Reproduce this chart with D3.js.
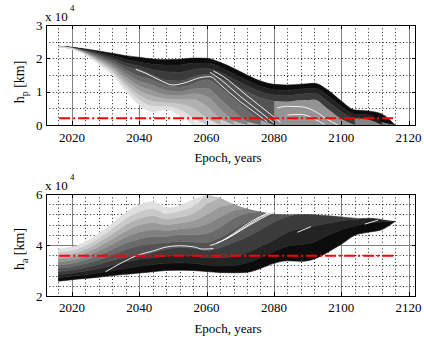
<!DOCTYPE html>
<html><head><meta charset="utf-8">
<script src="https://cdn.jsdelivr.net/npm/d3@7"></script>
<style>
body{margin:0;background:#fff}
svg{display:block}
</style>
</head><body>
<svg id="c" width="424" height="344"></svg>
<script>
// ---------- data (x 10^4 km) ----------
const years = [2016,2020,2024,2028,2032,2036,2040,2044,2048,2052,2056,2060,2064,2068,2072,2076,2080,2084,2088,2092,2096,2100,2104,2108,2112,2116];
const N = null;
// perigee altitude curves, darkest (s0) to lightest (s10)
const hp0  = [2.36,2.33,2.28,2.22,2.15,2.08,2.03,1.98,1.96,1.97,2.01,2.00,1.88,1.70,1.50,1.32,1.22,1.20,1.22,1.25,1.05,0.72,0.45,0.42,0.33,0.00];
const hp1  = [2.36,2.325,2.26,2.18,2.09,1.97,1.89,1.82,1.80,1.80,1.86,1.86,1.74,1.54,1.34,1.16,1.06,1.04,1.08,1.10,0.88,0.56,0.32,0.30,0.08,0.00];
const hp2  = [2.36,2.32,2.24,2.14,2.02,1.87,1.77,1.66,1.60,1.58,1.66,1.70,1.58,1.38,1.18,1.00,0.90,0.88,0.92,0.95,0.70,0.40,0.20,0.16,0.00,N];
const hp3  = [2.36,2.315,2.23,2.10,1.96,1.76,1.66,1.50,1.34,1.32,1.44,1.52,1.40,1.20,1.00,0.82,0.72,0.70,0.74,0.76,0.48,0.18,0.00,N,N,N];
const hp4  = [2.36,2.31,2.21,2.06,1.89,1.66,1.46,1.35,1.18,1.14,1.24,1.36,1.12,0.78,0.45,0.15,0.00,N,N,N,N,N,N,N,N,N];
const hp5  = [2.36,2.305,2.19,2.02,1.83,1.55,1.32,1.19,1.04,1.00,1.08,1.10,0.78,0.42,0.10,0.00,N,N,N,N,N,N,N,N,N,N];
const hp6  = [2.35,2.30,2.17,1.98,1.76,1.44,1.17,1.03,0.90,0.88,0.94,0.86,0.48,0.12,0.00,N,N,N,N,N,N,N,N,N,N,N];
const hp7  = [2.35,2.295,2.15,1.94,1.70,1.34,1.03,0.87,0.78,0.76,0.76,0.56,0.18,0.00,N,N,N,N,N,N,N,N,N,N,N,N];
const hp8  = [2.35,2.29,2.14,1.90,1.63,1.23,0.89,0.71,0.66,0.62,0.50,0.20,0.00,N,N,N,N,N,N,N,N,N,N,N,N,N];
const hp9  = [2.34,2.285,2.12,1.86,1.57,1.13,0.74,0.56,0.55,0.46,0.20,0.00,N,N,N,N,N,N,N,N,N,N,N,N,N,N];
const hp10 = [2.34,2.28,2.10,1.82,1.50,1.02,0.60,0.40,0.46,0.30,0.00,N,N,N,N,N,N,N,N,N,N,N,N,N,N,N];
// apogee altitude curves, darkest (s0) to lightest (s10)
const ha0  = [2.58,2.64,2.69,2.74,2.80,2.85,2.90,2.95,3.00,3.01,3.00,2.96,2.92,2.91,2.93,3.08,3.28,3.38,3.36,3.45,3.72,4.03,4.38,4.50,4.60,4.93];
const ha1  = [2.71,2.77,2.83,2.91,3.00,3.09,3.17,3.23,3.28,3.30,3.28,3.22,3.18,3.20,3.30,3.50,3.75,3.95,4.02,4.12,4.38,4.60,4.75,4.85,4.90,4.93];
const ha2  = [2.83,2.90,2.98,3.08,3.21,3.34,3.44,3.50,3.56,3.60,3.58,3.50,3.50,3.55,3.70,3.95,4.20,4.50,4.65,4.75,4.85,4.95,5.00,5.05,5.00,N];
const ha3  = [2.96,3.02,3.12,3.25,3.40,3.52,3.56,3.70,3.84,3.90,3.87,3.78,3.90,4.10,4.32,4.60,4.90,5.12,5.20,5.19,5.15,5.10,5.05,N,N,N];
const ha4  = [3.09,3.15,3.26,3.42,3.62,3.82,3.97,4.05,4.10,4.15,4.12,4.10,4.30,4.60,4.90,5.10,5.22,N,N,N,N,N,N,N,N,N];
const ha5  = [3.22,3.28,3.41,3.60,3.83,4.07,4.24,4.33,4.34,4.40,4.40,4.45,4.70,5.05,5.25,5.30,N,N,N,N,N,N,N,N,N,N];
const ha6  = [3.34,3.41,3.55,3.77,4.03,4.31,4.51,4.60,4.58,4.63,4.68,4.82,5.10,5.35,5.42,N,N,N,N,N,N,N,N,N,N,N];
const ha7  = [3.47,3.54,3.69,3.94,4.24,4.55,4.78,4.88,4.80,4.86,4.96,5.20,5.50,5.60,N,N,N,N,N,N,N,N,N,N,N,N];
const ha8  = [3.60,3.66,3.83,4.11,4.44,4.79,5.04,5.15,5.02,5.10,5.24,5.60,5.85,N,N,N,N,N,N,N,N,N,N,N,N,N];
const ha9  = [3.72,3.79,3.98,4.28,4.65,5.04,5.31,5.43,5.24,5.33,5.52,5.98,N,N,N,N,N,N,N,N,N,N,N,N,N,N];
const ha10 = [3.85,3.92,4.12,4.45,4.85,5.28,5.58,5.70,5.45,5.55,5.78,N,N,N,N,N,N,N,N,N,N,N,N,N,N,N];
// outer envelope of the apogee ensemble (upper edge)
const haTop = [3.85,3.92,4.12,4.45,4.85,5.28,5.58,5.70,5.45,5.55,5.78,5.98,5.85,5.60,5.42,5.30,5.22,5.20,5.20,5.19,5.15,5.10,5.05,5.05,5.00,4.93];
// gaps (white streaks) between curve groups
const gapP1Y = [2039,2042,2046,2050,2054,2058,2061,2064,2067,2070,2074,2078];
const gapP1V = [1.67,1.55,1.35,1.20,1.28,1.42,1.45,1.22,0.95,0.70,0.40,0.10];
const gapP2Y = [2061,2064,2067,2070,2074,2078,2080];
const gapP2V = [1.58,1.38,1.12,0.86,0.54,0.22,0.06];
const gapP3Y = [2062,2065,2068,2072,2076,2080,2082];
const gapP3V = [1.62,1.45,1.22,0.88,0.56,0.24,0.08];
const gapP4Y = [2081,2084,2088,2092,2096,2099];
const gapP4V = [0.52,0.56,0.55,0.42,0.16,0.00];
const gapP5Y = [2084,2088,2092,2095];
const gapP5V = [0.30,0.32,0.18,0.02];
const gapA1Y = [2030,2034,2040,2044,2048,2052,2056,2059,2062];
const gapA1V = [2.95,3.25,3.62,3.76,3.92,3.97,3.93,3.84,3.86];
const gapA2Y = [2061,2064,2068,2072,2076,2079];
const gapA2V = [3.98,4.12,4.45,4.82,5.12,5.30];
const gapA3Y = [2063,2066,2070,2074,2078,2081];
const gapA3V = [4.08,4.25,4.58,4.92,5.22,5.38];
const gapA4Y = [2065,2068,2072,2076,2080];
const gapA4V = [4.20,4.40,4.72,5.02,5.30];
const gapA5Y = [2087,2091];
const gapA5V = [4.50,4.72];
const gapA6Y = [2107,2111];
const gapA6V = [4.82,4.98];
// reference altitudes
const refYears = [2016.2, 2116];
const leoLimit = 0.2;      // 2000 km
const geoAlt = 3.5786;     // 35786 km
// ticks
const xTicks = [2020,2040,2060,2080,2100,2120];
const hpTicks = [0,1,2,3];
const haTicks = [2,4,6];

// ---------- drawing ----------
const FONT = "Liberation Serif";
const svg = d3.select('#c');
const x = d3.scaleLinear().domain([2012.3, 2122.2]).range([46, 416]);
const gray = t => { const g = Math.round(t * 236); return `rgb(${g},${g},${g})`; };

const panels = [
  {id:'p', top:25, bottom:125, dom:[0,3], curves:[hp0,hp1,hp2,hp3,hp4,hp5,hp6,hp7,hp8,hp9,hp10],
   bound: years.map(() => 0), edgeLight: 0.38,
   ticks:hpTicks, minor:d3.range(0.5,3,0.5), solid:[], sub:'p', ref:leoLimit,
   gaps:[[gapP1Y,gapP1V],[gapP2Y,gapP2V],[gapP3Y,gapP3V],[gapP4Y,gapP4V],[gapP5Y,gapP5V]],
   expY:21, labY:82, xlabY:142, titleY:162},
  {id:'a', top:194, bottom:296, dom:[2,6], curves:[ha0,ha1,ha2,ha3,ha4,ha5,ha6,ha7,ha8,ha9,ha10],
   bound: haTop, edgeLight: 0,
   ticks:haTicks, minor:d3.range(2.4,6,0.4), solid:[4], sub:'a', ref:geoAlt,
   gaps:[[gapA1Y,gapA1V],[gapA2Y,gapA2V],[gapA3Y,gapA3V],[gapA4Y,gapA4V],[gapA5Y,gapA5V],[gapA6Y,gapA6V]],
   expY:190, labY:249, xlabY:312, titleY:333}
];

const L = 46, R = 416;
panels.forEach(P => {
  const y = d3.scaleLinear().domain(P.dom).range([P.bottom, P.top]);
  const g = svg.append('g');
  g.append('clipPath').attr('id','clip'+P.id).append('rect')
    .attr('x',L).attr('y',P.top).attr('width',R-L).attr('height',P.bottom-P.top);
  // grid
  const xMinor = d3.range(2016, 2122, 4).filter(v => v % 20 !== 0);
  g.selectAll('.vm').data(xMinor).join('line')
    .attr('x1',d=>Math.round(x(d))+0.5).attr('x2',d=>Math.round(x(d))+0.5).attr('y1',P.top).attr('y2',P.bottom)
    .attr('stroke','#222').attr('stroke-width',1).attr('stroke-dasharray','1,2.4');
  g.selectAll('.vM').data(xTicks).join('line')
    .attr('x1',d=>Math.round(x(d))+0.5).attr('x2',d=>Math.round(x(d))+0.5).attr('y1',P.top).attr('y2',P.bottom)
    .attr('stroke','#808080').attr('stroke-width',1);
  const hDot = P.minor.filter(v => !P.solid.some(s => Math.abs(s-v) < 1e-6));
  g.selectAll('.hm').data(hDot).join('line')
    .attr('x1',L).attr('x2',R).attr('y1',d=>Math.round(y(d))+0.5).attr('y2',d=>Math.round(y(d))+0.5)
    .attr('stroke','#222').attr('stroke-width',1).attr('stroke-dasharray','1,2.4');
  g.selectAll('.hM').data(P.solid).join('line')
    .attr('x1',L).attr('x2',R).attr('y1',d=>Math.round(y(d))+0.5).attr('y2',d=>Math.round(y(d))+0.5)
    .attr('stroke','#808080').attr('stroke-width',1);

  // ensemble bands: band k spans curve k to curve k+1; once k+1 has ended it
  // reaches the ensemble edge (streaky region, optionally lighter)
  const dg = g.append('g').attr('clip-path',`url(#clip${P.id})`);
  const area = d3.area().curve(d3.curveMonotoneX)
    .defined(d => d.on)
    .x(d => x(d.yr)).y0(d => y(d.a)).y1(d => y(d.b));
  const C = P.curves;
  for (let k = 0; k < C.length - 1; k++) {
    const lo = C[k], hi = C[k+1];
    const pair = years.map((yr,i) => ({yr, a: lo[i], b: hi[i], on: lo[i] != null && hi[i] != null}));
    const edge = years.map((yr,i) => {
      const dead = hi[i] == null || (i + 1 < years.length && hi[i+1] == null && lo[i+1] != null);
      return {yr, a: lo[i], b: P.bound[i], on: lo[i] != null && dead};
    });
    const col = gray((k + 0.5) / (C.length - 1));
    dg.append('path').datum(edge).attr('d', area)
      .attr('fill', d3.interpolateRgb(col, '#fff')(P.edgeLight)).attr('stroke','none');
    dg.append('path').datum(pair).attr('d', area)
      .attr('fill', col).attr('stroke', col).attr('stroke-width', 0.6);
  }
  // white gaps
  const gl = d3.line().curve(d3.curveMonotoneX).x(d => x(d[0])).y(d => y(d[1]));
  P.gaps.forEach(([ys, vs]) => {
    dg.append('path').datum(ys.map((v,i) => [v, vs[i]])).attr('d', gl)
      .attr('fill','none').attr('stroke','#fff').attr('stroke-width',0.9);
  });
  // reference line
  dg.append('line').attr('x1',x(refYears[0])).attr('x2',x(refYears[1]))
    .attr('y1',y(P.ref)).attr('y2',y(P.ref))
    .attr('stroke','#ff0000').attr('stroke-width',2).attr('stroke-dasharray','11,3,2,3');

  // box and ticks
  g.append('rect').attr('x',L+0.5).attr('y',P.top+0.5).attr('width',R-L-1).attr('height',P.bottom-P.top)
    .attr('fill','none').attr('stroke','#000').attr('stroke-width',1);
  xTicks.forEach(t => {
    const xx = Math.round(x(t)) + 0.5;
    g.append('line').attr('x1',xx).attr('x2',xx).attr('y1',P.bottom).attr('y2',P.bottom-4).attr('stroke','#000');
    g.append('line').attr('x1',xx).attr('x2',xx).attr('y1',P.top).attr('y2',P.top+4).attr('stroke','#000');
    g.append('text').attr('x',x(t)).attr('y',P.xlabY).attr('text-anchor','middle')
      .attr('font-family',FONT).attr('font-size',13).text(t);
  });
  P.ticks.forEach(t => {
    const yy = Math.round(y(t)) + 0.5;
    g.append('line').attr('x1',L).attr('x2',L+4).attr('y1',yy).attr('y2',yy).attr('stroke','#000');
    g.append('line').attr('x1',R-4).attr('x2',R).attr('y1',yy).attr('y2',yy).attr('stroke','#000');
    g.append('text').attr('x',42.5).attr('y',y(t)).attr('dy','0.35em').attr('text-anchor','end')
      .attr('font-family',FONT).attr('font-size',13).text(t);
  });
  // exponent
  g.append('text').attr('x',45).attr('y',P.expY).attr('font-family',FONT).attr('font-size',13).text('x 10');
  g.append('text').attr('x',70).attr('y',P.expY-10).attr('font-family',FONT).attr('font-size',9).text('4');
  // labels
  const yl = g.append('text').attr('transform',`translate(23.5,${P.labY}) rotate(-90)`)
    .attr('text-anchor','middle').attr('font-family',FONT).attr('font-size',14);
  yl.append('tspan').text('h');
  yl.append('tspan').attr('dy',4).attr('font-size',10).text(P.sub);
  yl.append('tspan').attr('dy',-4).text(' [km]');
  g.append('text').attr('x',228).attr('y',P.titleY).attr('text-anchor','middle')
    .attr('font-family',FONT).attr('font-size',13).text('Epoch, years');
});
</script>
</body></html>
